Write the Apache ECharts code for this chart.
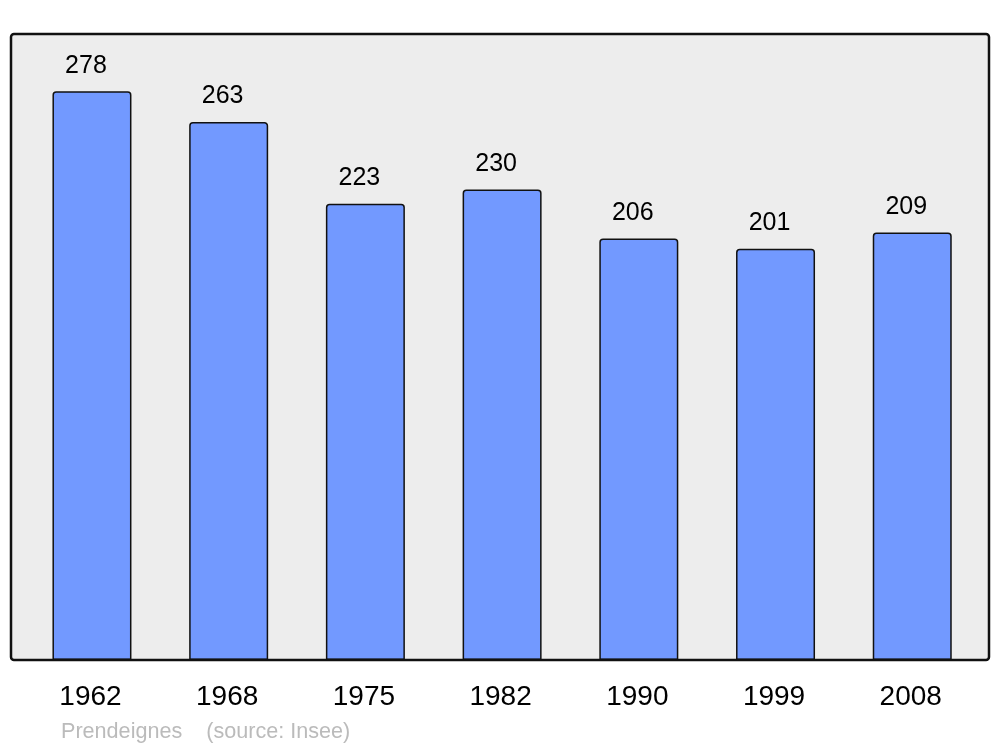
<!DOCTYPE html>
<html>
<head>
<meta charset="utf-8">
<script src="https://cdn.jsdelivr.net/npm/echarts@6/dist/echarts.min.js"></script>
<style>html,body{margin:0;padding:0;background:#fff}#c{width:1000px;height:747px}</style>
</head>
<body>
<div id="c"></div>
<script>
const years = ['1962', '1968', '1975', '1982', '1990', '1999', '2008'];
const population = [278, 263, 223, 230, 206, 201, 209];
const footerText = 'Prendeignes    (source: Insee)';

const chart = echarts.init(document.getElementById('c'), null, {renderer: 'canvas'});
chart.setOption({
  animation: false,
  backgroundColor: '#ffffff',
  grid: {left: 23.6, width: 957, top: 34, height: 626, containLabel: false},
  xAxis: {
    type: 'category',
    data: years,
    axisLine: {show: false},
    axisTick: {show: false},
    axisLabel: {
      color: '#000', fontSize: 28, fontFamily: 'Liberation Sans, Arial, sans-serif',
      margin: 23, padding: [0, 3, 0, 0], formatter: v => v
    }
  },
  yAxis: {type: 'value', min: 0, max: 306, show: false, splitLine: {show: false}},
  graphic: [
    {type: 'rect', z: -10, shape: {x: 11, y: 34, width: 978, height: 626, r: 3},
     style: {fill: '#ededed', stroke: null}},
    {type: 'rect', z: 100, silent: true, shape: {x: 11, y: 34, width: 978, height: 626, r: 3},
     style: {fill: null, stroke: '#111', lineWidth: 2.5}},
    {type: 'text', left: 61, top: 721, style: {text: footerText, fill: '#bbbbbb', fontSize: 21.6,
     fontFamily: 'Liberation Sans, Arial, sans-serif'}}
  ],
  series: [{
    type: 'bar',
    data: population,
    barWidth: 79,
    itemStyle: {color: '#7299ff', borderColor: '#111', borderWidth: 1.5, borderRadius: [3, 3, 0, 0]},
    label: {
      show: true, position: 'top', distance: 13, offset: [-6, 0],
      color: '#000', fontSize: 25, fontFamily: 'Liberation Sans, Arial, sans-serif'
    }
  }]
});
</script>
</body>
</html>
